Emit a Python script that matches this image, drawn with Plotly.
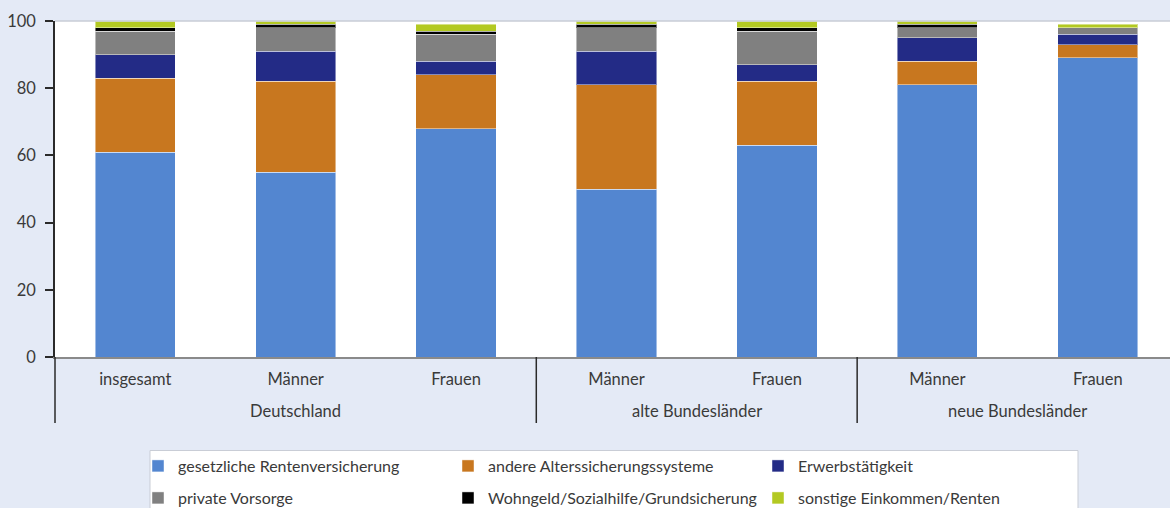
import plotly.graph_objects as go

regions = ["Deutschland", "Deutschland", "Deutschland",
           "alte Bundesländer", "alte Bundesländer",
           "neue Bundesländer", "neue Bundesländer"]
groups = ["insgesamt", "Männer", "Frauen", "Männer", "Frauen", "Männer", "Frauen"]
region_names = ["Deutschland", "alte Bundesländer", "neue Bundesländer"]

gesetzlich = [61, 55, 68, 50, 63, 81, 89]
andere = [22, 27, 16, 31, 19, 7, 4]
erwerb = [7, 9, 4, 10, 5, 7, 3]
privat = [7, 7, 8, 7, 10, 3, 2]
wohngeld = [1, 1, 1, 1, 1, 1, 0]
sonstige = [2, 1, 2, 1, 2, 1, 1]

series = [
    ("gesetzliche Rentenversicherung", gesetzlich, "#5386D0", "legend"),
    ("andere Alterssicherungssysteme", andere, "#C8771F", "legend"),
    ("Erwerbstätigkeit", erwerb, "#232B86", "legend"),
    ("private Vorsorge", privat, "#808080", "legend2"),
    ("Wohngeld/Sozialhilfe/Grundsicherung", wohngeld, "#000000", "legend2"),
    ("sonstige Einkommen/Renten", sonstige, "#B3C922", "legend2"),
]

categories = [f"{r} – {g}" for r, g in zip(regions, groups)]

FONT = "Lato"
TXT = "#3a3a3a"

fig = go.Figure()
for name, vals, color, lg in series:
    fig.add_trace(go.Bar(
        x=categories, y=vals, name=name,
        marker=dict(color=color, line=dict(color="rgba(255,255,255,0.45)", width=1)),
        legend=lg,
    ))

W, H = 1170, 508
L, R, T, B = 55, 0, 21, 151
pw, ph = W - L - R, H - T - B

def px_x(p):
    return (p - L) / pw

def px_y(p):
    return (H - B - p) / ph

# group centres and boundaries (category index space)
annotations = []
shapes = []
start = 0
for rn in region_names:
    n = regions.count(rn)
    annotations.append(dict(
        x=start + (n - 1) / 2, xref="x", y=px_y(411), yref="paper",
        text=rn, showarrow=False, xanchor="center", yanchor="middle",
        font=dict(family=FONT, size=16.5, color=TXT),
    ))
    if start > 0:
        shapes.append(dict(type="line", xref="x", yref="paper",
                           x0=start - 0.5, x1=start - 0.5, y0=0, y1=px_y(423),
                           line=dict(color="#2a2a2a", width=1.5)))
    start += n

shapes.append(dict(type="line", xref="paper", yref="paper", x0=0, x1=0,
                   y0=0, y1=px_y(423), line=dict(color="#2a2a2a", width=1.5)))
shapes.append(dict(type="rect", xref="paper", yref="paper",
                   x0=px_x(150), x1=px_x(1078), y0=px_y(450.5), y1=px_y(530),
                   fillcolor="#FFFFFF", line=dict(color="#C9CDD6", width=1), layer="below"))
shapes.append(dict(type="line", xref="paper", yref="paper", x0=0, x1=1, y0=1, y1=1,
                   line=dict(color="#C9CDD6", width=1.5)))

leg_common = dict(
    orientation="h", xref="container", yref="container",
    xanchor="left", yanchor="middle",
    bgcolor="rgba(0,0,0,0)", borderwidth=0,
    entrywidth=265, entrywidthmode="pixels",
    font=dict(family=FONT, size=16, color=TXT), traceorder="normal",
)

fig.update_layout(
    width=W, height=H,
    margin=dict(l=L, r=R, t=T, b=B, autoexpand=False),
    barmode="stack", bargap=0.5,
    paper_bgcolor="#E4EAF6", plot_bgcolor="#FFFFFF",
    font=dict(family=FONT, size=15, color=TXT),
    xaxis=dict(
        type="category", range=[-0.5, 6.45], showline=True, linecolor="#8a8a8a", linewidth=2,
        ticks="", showgrid=False, tickmode="array", tickvals=categories, ticktext=groups,
        tickfont=dict(size=16.5, color=TXT), ticklabelstandoff=6,
    ),
    yaxis=dict(
        range=[0, 100], dtick=20, showline=True, linecolor="#2a2a2a", linewidth=1.5,
        ticks="outside", ticklen=8, tickcolor="#2a2a2a", tickwidth=1.5,
        showgrid=False, zeroline=False, tickfont=dict(size=16.5, color=TXT),
        ticklabelstandoff=6,
    ),
    legend=dict(x=138 / W, y=1 - 466 / H, **leg_common),
    legend2=dict(x=138 / W, y=1 - 498 / H, **leg_common),
    shapes=shapes,
    annotations=annotations,
)

fig.write_html("out.html")
